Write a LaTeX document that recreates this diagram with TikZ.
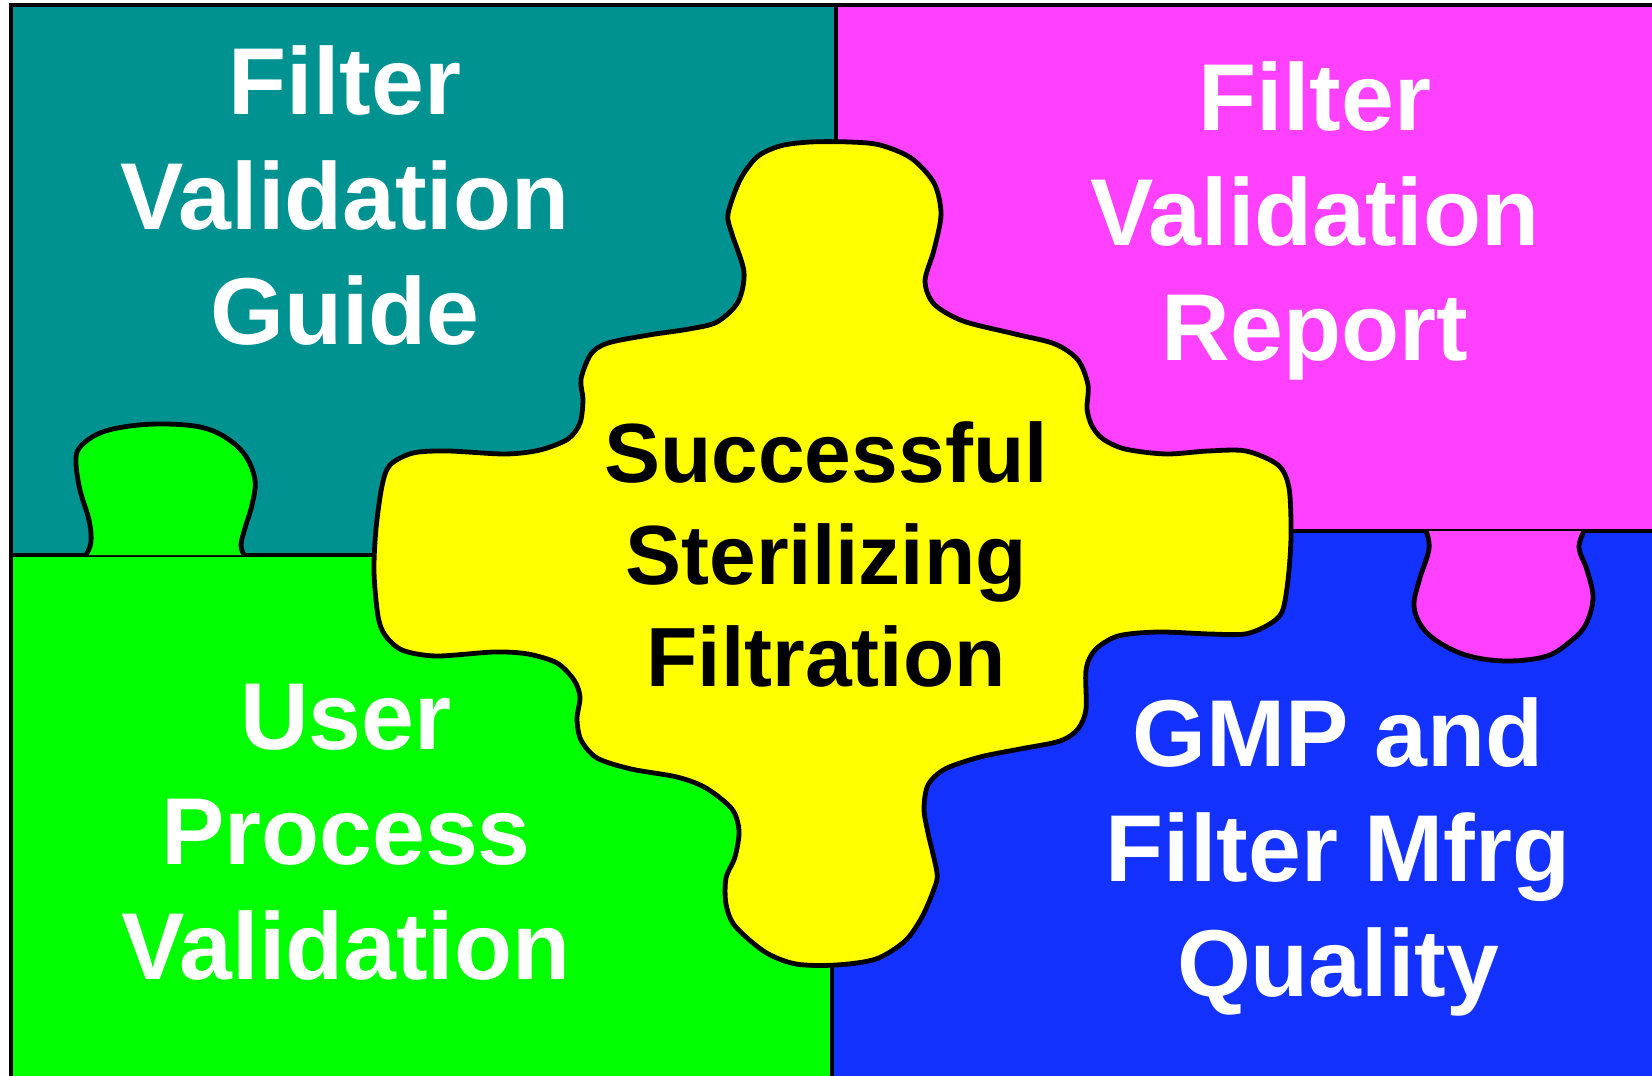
\documentclass[tikz,border=0pt]{standalone}
\usepackage{fontspec}
\setmainfont{Liberation Sans}
\usepackage{tikz}
\definecolor{guideteal}{RGB}{0,145,145}
\definecolor{reportpink}{RGB}{255,64,255}
\definecolor{usergreen}{RGB}{0,255,0}
\definecolor{gmpblue}{RGB}{20,50,255}
\definecolor{hubyellow}{RGB}{255,255,0}

\begin{document}
\begin{tikzpicture}[x=1pt,y=-1pt,
	piece/.style={line width=4.8pt, line join=round},
	seam/.style={line width=3.2pt},
	piecetext/.style={align=center, text=white, font=\fontsize{95}{115}\selectfont\bfseries},
	hubtext/.style={align=center, text=black, font=\fontsize{84}{102}\selectfont\bfseries}]
\useasboundingbox (0,0) rectangle (1652,1076);
\fill[white] (0,0) rectangle (1652,1076);
% the four corner pieces
\fill[guideteal] (11,5) rectangle (836,555);
\fill[reportpink] (836,5) rectangle (1652,531);
\fill[usergreen] (11,555) rectangle (832,1076);
\fill[gmpblue] (832,531) rectangle (1652,1076);
\draw[seam] (836,5) -- (836,300);
\draw[seam] (832,800) -- (832,1076);
\draw[seam] (11,555) -- (420,555);
\draw[seam] (1200,531) -- (1652,531);
% tabs
\fill[usergreen] plot[smooth, tension=0.6] coordinates {(86,555) (91,542) (89,520) (80,490) (76,462) (80,447) (100,433) (130,426) (165,424) (200,427) (225,437) (245,455) (255,480) (252,505) (245,528) (241,545) (244,555)} -- cycle;
\draw[piece] plot[smooth, tension=0.6] coordinates {(86,555) (91,542) (89,520) (80,490) (76,462) (80,447) (100,433) (130,426) (165,424) (200,427) (225,437) (245,455) (255,480) (252,505) (245,528) (241,545) (244,555)};
\fill[reportpink] plot[smooth, tension=0.6] coordinates {(1426,531) (1429,549) (1419,581) (1414,606) (1422,627) (1440,643) (1469,656) (1507,661) (1547,656) (1572,640) (1586,624) (1593,598) (1587,570) (1579,548) (1584,531)} -- cycle;
\draw[piece] plot[smooth, tension=0.6] coordinates {(1426,531) (1429,549) (1419,581) (1414,606) (1422,627) (1440,643) (1469,656) (1507,661) (1547,656) (1572,640) (1586,624) (1593,598) (1587,570) (1579,548) (1584,531)};
% centre piece
\draw[piece, fill=hubyellow] plot[smooth cycle, tension=0.5] coordinates {
	(810,142) (850,142) (880,145) (911,158) (934,183) (941,214) (934,250) (925,281)
	(934,304) (963,321) (1015,334) (1055,344) (1078,360) (1088,385) (1087,409) (1092,426)
	(1103,439) (1125,449) (1166,454) (1208,451) (1246,451) (1278,465) (1289,488) (1291,536)
	(1288,580) (1282,612) (1268,625) (1245,634) (1210,634) (1158,632) (1118,636) (1095,650)
	(1086,670) (1086,709) (1078,729) (1060,741) (1020,749) (980,757) (945,769) (928,785)
	(924,809) (928,833) (937,873) (934,889) (922,917) (905,941) (876,959) (836,965)
	(796,964) (765,952) (735,926) (726,904) (726,878) (735,857) (739,831) (732,809)
	(706,788) (677,777) (631,769) (597,758) (581,740) (577,719) (580,697) (574,680)
	(557,663) (528,654) (494,652) (436,656) (402,650) (385,635) (378,616) (374,572)
	(376,529) (382,486) (390,465) (413,453) (448,451) (505,454) (540,450) (568,439)
	(580,423) (583,400) (581,379) (591,354) (608,343) (649,335) (689,329) (717,322)
	(738,302) (744,272) (732,234) (728,214) (740,180) (757,157) (780,146)};
% frame
\draw[seam] (11,1076) -- (11,5) -- (1652,5);
% texts
\node[piecetext] (guide) at (345,196) {Filter\\Validation\\Guide};
\node[piecetext] (report) at (1315,221) {Filter\\Validation\\Report};
\node[piecetext] (user) at (346,832) {User\\Process\\Validation};
\node[piecetext] (gmp) at (1338,857) {GMP and\\Filter Mfrg\\Quality};
\node[hubtext] (hub) at (826,554) {Successful\\Sterilizing\\Filtration};
\end{tikzpicture}
\end{document}
